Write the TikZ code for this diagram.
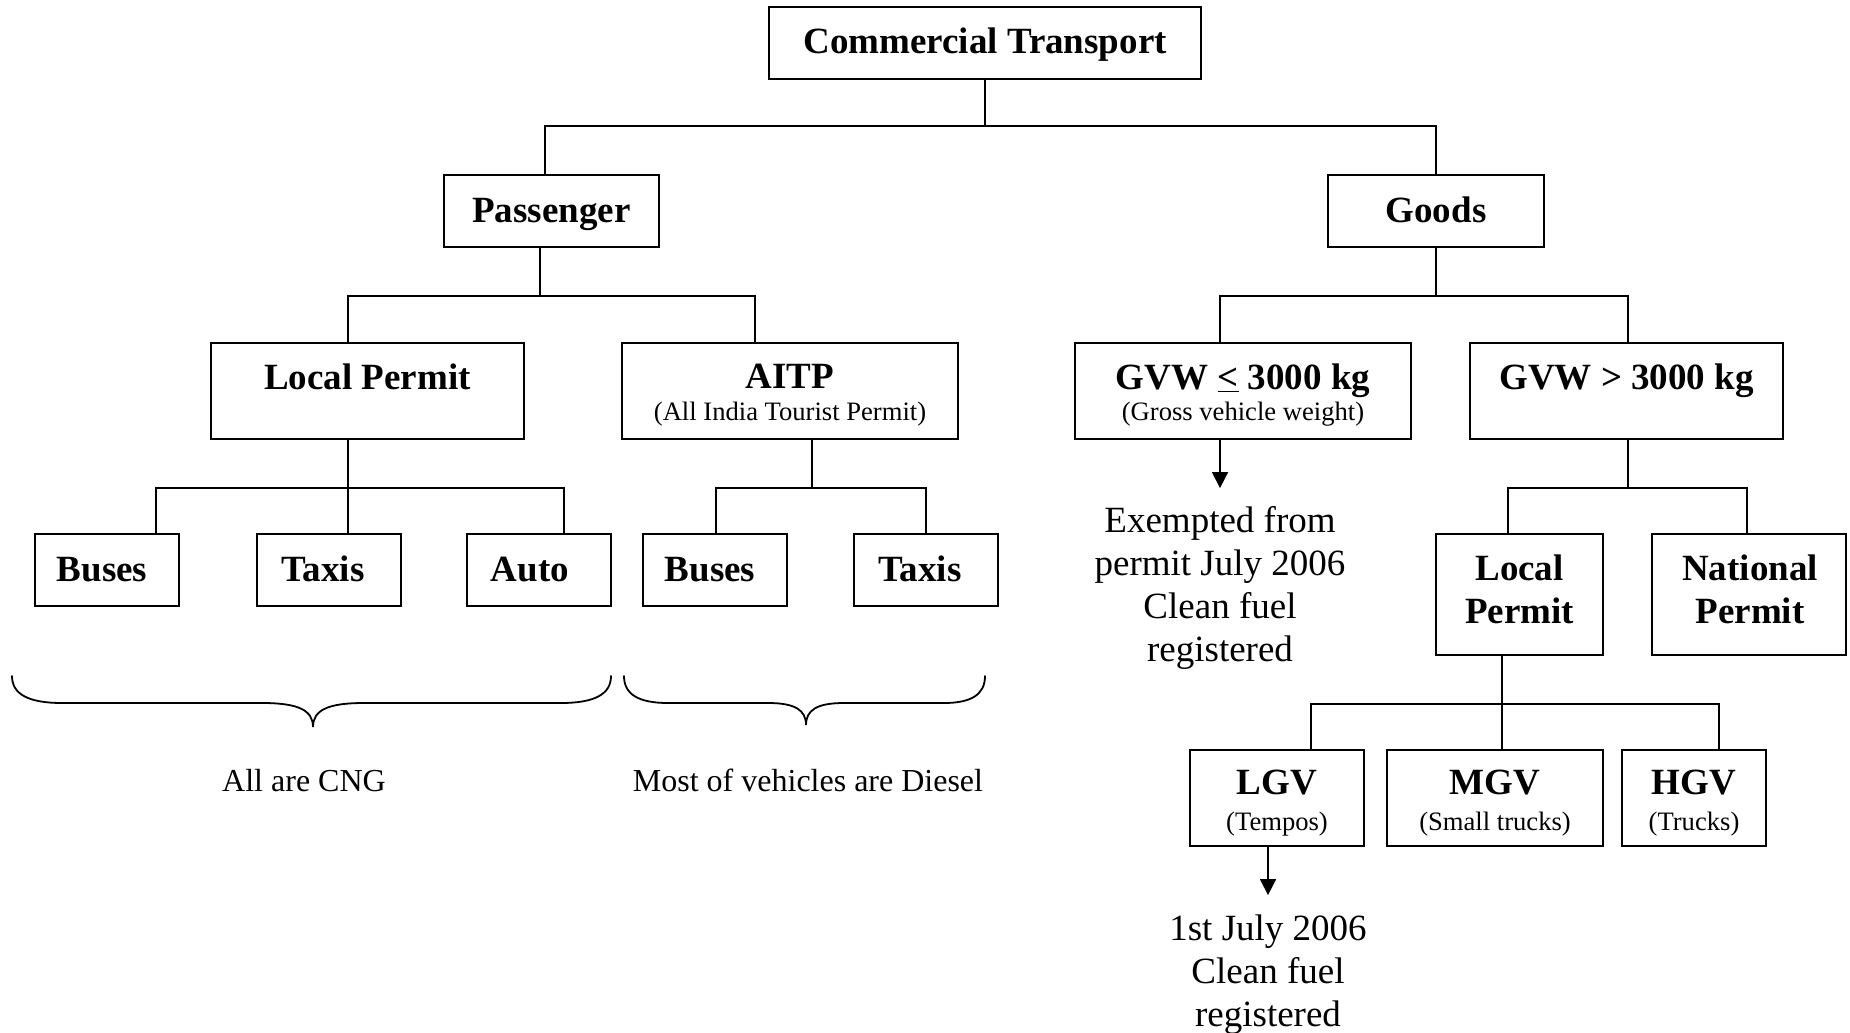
\documentclass[tikz,border=0pt]{standalone}
\usepackage{fontspec}
\setmainfont{Liberation Serif}
\usetikzlibrary{arrows.meta,calc}
\begin{document}
\begin{tikzpicture}[x=0.5pt,y=-0.5pt,
  box/.style={draw, line width=1.1pt, inner sep=0pt},
  conn/.style={line width=0.75pt},
  arr/.style={line width=0.8pt, -{Triangle[width=8pt,length=8pt]}},
  bl/.style={font=\fontsize{18.5}{21}\selectfont\bfseries, anchor=base, inner sep=0pt},
  sm/.style={font=\fontsize{13.3}{15}\selectfont, anchor=base, inner sep=0pt},
  note/.style={font=\fontsize{18.5}{21.5}\selectfont, align=center, anchor=north, inner sep=0pt},
  capt/.style={font=\fontsize{16}{19}\selectfont, anchor=base, inner sep=0pt},
  brace/.style={line width=0.9pt, line cap=round}]
\useasboundingbox (0,0) rectangle (1850,1032);

% boxes
\node[box, minimum width=216pt, minimum height=36pt] (ct) at (985,43) {};
\node[box, minimum width=107.5pt, minimum height=36pt] (pass) at (551.5,211) {};
\node[box, minimum width=108pt, minimum height=36pt] (goods) at (1436,211) {};
\node[box, minimum width=156.5pt, minimum height=48pt] (lp) at (367.5,391) {};
\node[box, minimum width=168pt, minimum height=48pt] (aitp) at (790,391) {};
\node[box, minimum width=168pt, minimum height=48pt] (gl) at (1243,391) {};
\node[box, minimum width=156.5pt, minimum height=48pt] (gg) at (1626.5,391) {};
\node[box, minimum width=72pt, minimum height=36pt] (bus1) at (107,570) {};
\node[box, minimum width=72pt, minimum height=36pt] (taxi1) at (329,570) {};
\node[box, minimum width=72pt, minimum height=36pt] (auto) at (539,570) {};
\node[box, minimum width=72pt, minimum height=36pt] (bus2) at (715,570) {};
\node[box, minimum width=72pt, minimum height=36pt] (taxi2) at (926,570) {};
\node[box, minimum width=83.5pt, minimum height=60.5pt] (glp) at (1519.5,594.5) {};
\node[box, minimum width=97pt, minimum height=60.5pt] (np) at (1749,594.5) {};
\node[box, minimum width=87pt, minimum height=48pt] (lgv) at (1277,798) {};
\node[box, minimum width=108pt, minimum height=48pt] (mgv) at (1495,798) {};
\node[box, minimum width=72pt, minimum height=48pt] (hgv) at (1694,798) {};

% texts in boxes
\node[bl] (tct) at (985,54) {Commercial Transport};
\node[bl] (tpass) at (551.5,222) {Passenger};
\node[bl] (tgoods) at (1436,222) {Goods};
\node[bl] (tlp) at (367.5,389) {Local Permit};
\node[bl] (taitp) at (790,388) {AITP};
\node[sm] (taitp2) at (790,420) {(All India Tourist Permit)};
\node[bl] (tgl) at (1243,389) {GVW \underline{<} 3000 kg};
\node[sm] (tgl2) at (1243,420) {(Gross vehicle weight)};
\node[bl] (tgg) at (1626.5,389) {GVW > 3000 kg};
\node[bl] (tbus1) at (102,581) {Buses};
\node[bl] (ttaxi1) at (323,581) {Taxis};
\node[bl] (tauto) at (530,581) {Auto};
\node[bl] (tbus2) at (710,581) {Buses};
\node[bl] (ttaxi2) at (920,581) {Taxis};
\node[bl] (tglp1) at (1519.5,580) {Local};
\node[bl] (tglp2) at (1519.5,623) {Permit};
\node[bl] (tnp1) at (1750,580) {National};
\node[bl] (tnp2) at (1750,623) {Permit};
\node[bl] (tlgv) at (1277,794) {LGV};
\node[sm] (tlgv2) at (1277,830) {(Tempos)};
\node[bl] (tmgv) at (1495,794) {MGV};
\node[sm] (tmgv2) at (1495,830) {(Small trucks)};
\node[bl] (thgv) at (1694,794) {HGV};
\node[sm] (thgv2) at (1694,830) {(Trucks)};

% notes
\node[note] (ex) at (1220,506) {Exempted from\\permit July 2006\\Clean fuel\\registered};
\node[note] (lg) at (1268,914) {1st July 2006\\Clean fuel\\registered};
\node[capt] (cng) at (304,791) {All are CNG};
\node[capt] (dsl) at (808,791) {Most of vehicles are Diesel};

% connectors
\coordinate (j1) at ($(ct.south)+(0,46)$);
\draw[conn] (ct.south) -- (j1);
\draw[conn] ($(pass.north)+(-6.5,0)$) |- (j1) -| (goods.north);

\coordinate (j2a) at ($(pass.south)+(-11.5,48)$);
\draw[conn] ($(pass.south)+(-11.5,0)$) -- (j2a);
\draw[conn] ($(lp.north)+(-19.5,0)$) |- (j2a) -| ($(aitp.north)+(-35,0)$);

\coordinate (j2b) at ($(goods.south)+(0,48)$);
\draw[conn] (goods.south) -- (j2b);
\draw[conn] ($(gl.north)+(-23,0)$) |- (j2b) -| ($(gg.north)+(1.5,0)$);

\coordinate (j3) at ($(lp.south)+(-19.5,48)$);
\draw[conn] ($(lp.south)+(-19.5,0)$) -- (j3);
\draw[conn] ($(bus1.north)+(49,0)$) |- (j3) -| ($(auto.north)+(25,0)$);
\draw[conn] ($(taxi1.north)+(19,0)$) -- (j3);

\coordinate (j4) at ($(aitp.south)+(22,48)$);
\draw[conn] ($(aitp.south)+(22,0)$) -- (j4);
\draw[conn] ($(bus2.north)+(1,0)$) |- (j4) -| (taxi2.north);

\coordinate (j5) at ($(gg.south)+(1.5,48)$);
\draw[conn] ($(gg.south)+(1.5,0)$) -- (j5);
\draw[conn] ($(glp.north)+(-11.5,0)$) |- (j5) -| ($(np.north)+(-2,0)$);

\coordinate (j6) at ($(glp.south)+(-17.5,48)$);
\draw[conn] ($(glp.south)+(-17.5,0)$) -- (j6);
\draw[conn] ($(lgv.north)+(34,0)$) |- (j6) -| ($(hgv.north)+(25,0)$);
\draw[conn] ($(mgv.north)+(7,0)$) -- (j6);

\draw[arr] (gl.south -| ex.north) -- ++(0,48);
\draw[arr] (lgv.south -| lg.north) -- ++(0,48);

% braces
\draw[brace] (12,676) .. controls (12,694) and (28,703) .. (62,703) -- (262,703)
  .. controls (298,703) and (313,710) .. (313,727)
  .. controls (313,710) and (328,703) .. (364,703) -- (561,703)
  .. controls (595,703) and (611,694) .. (611,676);
\draw[brace] (624,676) .. controls (624,694) and (638,703) .. (668,703) -- (768,703)
  .. controls (795,703) and (806,710) .. (806,725)
  .. controls (806,710) and (817,703) .. (844,703) -- (944,703)
  .. controls (972,703) and (985,694) .. (985,676);
\end{tikzpicture}
\end{document}
